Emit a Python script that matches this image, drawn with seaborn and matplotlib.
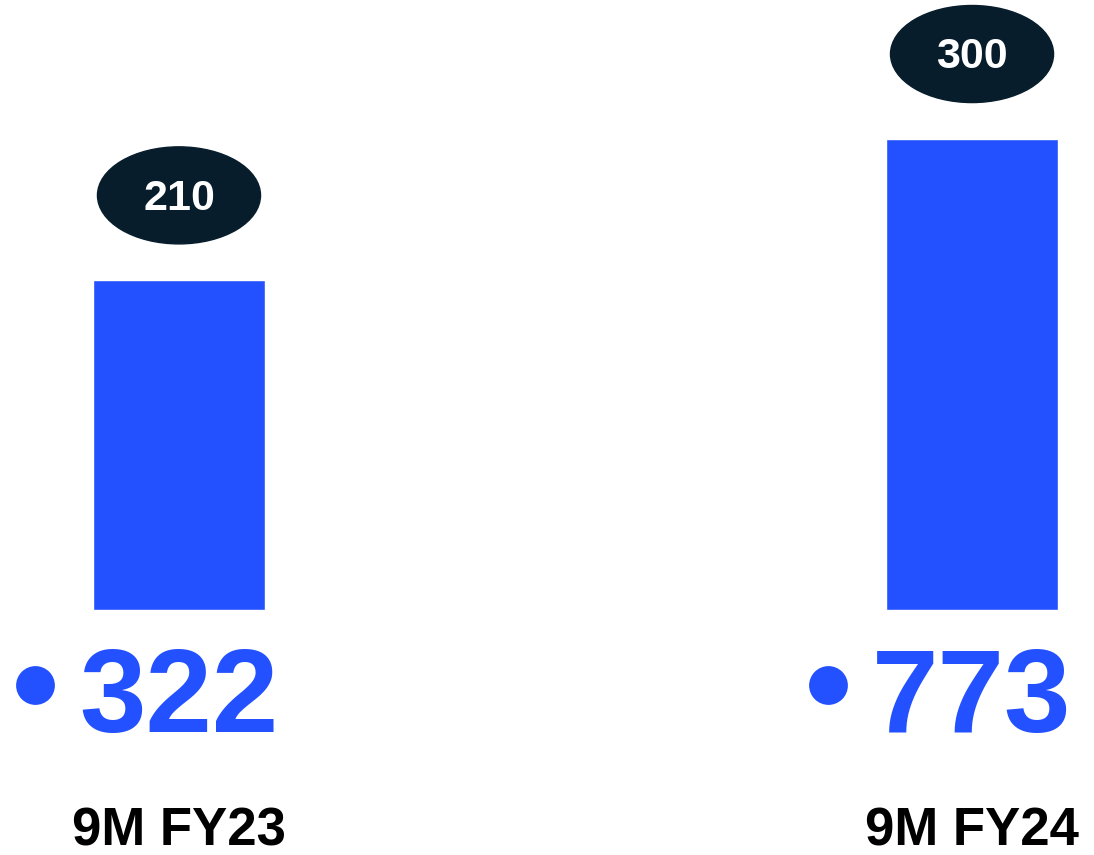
import matplotlib
matplotlib.use("Agg")
import matplotlib.pyplot as plt
from matplotlib.patches import Ellipse
import pandas as pd
import seaborn as sns

periods   = ["9M FY23", "9M FY24"]
bar_vals  = [210, 300]
big_vals  = [322, 773]

BLUE = "#2351FF"
NAVY = "#071D2C"

sns.set_theme(style="white")
plt.rcParams["font.family"] = ["Liberation Sans", "DejaVu Sans"]

df = pd.DataFrame({"period": periods, "value": bar_vals})

fig = plt.figure(figsize=(10.94, 8.55), dpi=100)
ax = fig.add_axes([0, 0, 1, 1])
sns.barplot(data=df, x="period", y="value", color=BLUE, saturation=1,
            width=0.217, ax=ax)

ax.set_xlim(-0.2257, 1.1538)
ax.set_ylim(-156, 388.4)
ax.axis("off")

for i, (v, big, lab) in enumerate(zip(bar_vals, big_vals, periods)):
    ax.add_patch(Ellipse((i, v + 54), 0.2056, 61.8, color=NAVY, zorder=3))
    ax.text(i, v + 52, str(v), color="white", fontsize=31, fontweight="bold",
            ha="center", va="center", zorder=4)
    ax.text(i, -58, str(big), color=BLUE, fontsize=86, fontweight="bold",
            ha="center", va="center")
    ax.scatter([i - 0.181], [-48], s=780, color=BLUE, linewidths=0)
    ax.text(i, -141, lab, color="black", fontsize=38, fontweight="bold",
            ha="center", va="center")

fig.savefig("out.png", dpi=100)
